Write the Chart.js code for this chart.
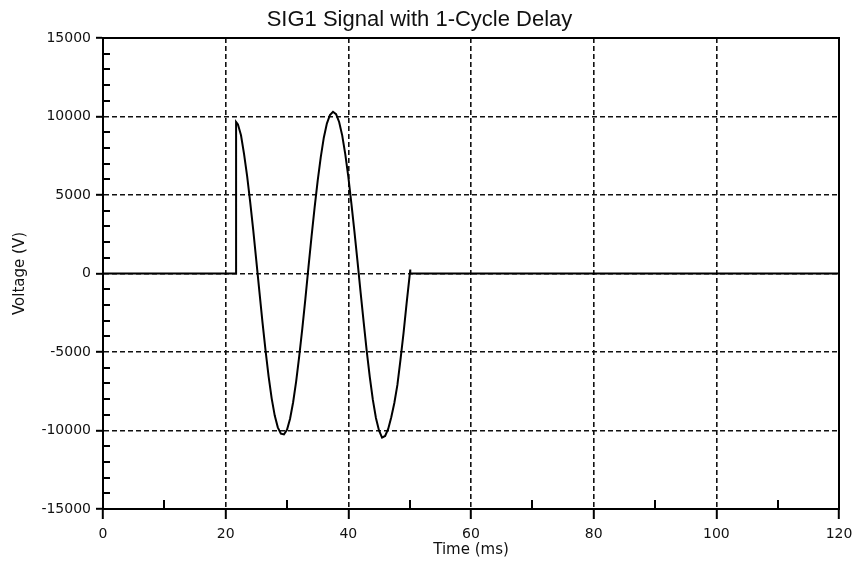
<!DOCTYPE html>
<html>
<head>
<meta charset="utf-8">
<title>SIG1 Signal with 1-Cycle Delay</title>
<script src="https://cdn.jsdelivr.net/npm/chart.js@4.4.1/dist/chart.umd.min.js"></script>
<style>
  html, body { margin: 0; padding: 0; background: #fff; }
  #wrap { width: 856px; height: 563px; }
</style>
</head>
<body>
<div id="wrap"><canvas id="chart" width="856" height="563"></canvas></div>
<script>
// SIG1 samples: time in ms, voltage in V
const timeMs = [
  0, 21.7, 21.7, 22.0, 22.5, 23.0, 23.5, 24.0, 24.5, 25.0, 25.5,
  26.0, 26.5, 27.0, 27.5, 28.0, 28.5, 29.0, 29.5, 30.0, 30.5,
  31.0, 31.5, 32.0, 32.5, 33.0, 33.5, 34.0, 34.5, 35.0, 35.5,
  36.0, 36.5, 37.0, 37.5, 38.0, 38.5, 39.0, 39.5, 40.0, 40.5,
  41.0, 41.5, 42.0, 42.5, 43.0, 43.5, 44.0, 44.5, 45.0, 45.5,
  46.0, 46.5, 47.0, 47.5, 48.0, 48.5, 49.0, 49.5, 50.1, 50.1, 120
];
const voltage = [
  0, 0, 9650, 9500, 8800, 7600, 6200, 4550, 2750, 800, -1150,
  -3100, -4900, -6550, -7950, -9050, -9800, -10200, -10250, -9950, -9250,
  -8200, -6850, -5250, -3500, -1600, 400, 2350, 4200, 5900, 7400,
  8650, 9550, 10100, 10300, 10150, 9650, 8800, 7600, 6150, 4450,
  2650, 750, -1200, -3100, -4950, -6600, -8050, -9200, -10000, -10450,
  -10350, -9900, -9150, -8250, -7100, -5500, -3800, -1900, 250, 0, 0
];

const xTicks = [0, 20, 40, 60, 80, 100, 120];
const yTicks = [-15000, -10000, -5000, 0, 5000, 10000, 15000];
const xMinorTicks = [10, 30, 50, 70, 90, 110];
const yMinorTicks = [-14000, -13000, -12000, -11000, -9000, -8000, -7000, -6000,
  -4000, -3000, -2000, -1000, 1000, 2000, 3000, 4000,
  6000, 7000, 8000, 9000, 11000, 12000, 13000, 14000];

const points = timeMs.map((t, i) => ({ x: t, y: voltage[i] }));

// solid frame on top/right plus the small inward minor ticks
const framePlugin = {
  id: 'frame',
  afterDraw(chart) {
    const { ctx, chartArea: a, scales } = chart;
    ctx.save();
    ctx.strokeStyle = '#000';
    ctx.lineWidth = 2;
    ctx.setLineDash([]);
    ctx.strokeRect(a.left, a.top, a.right - a.left, a.bottom - a.top);
    ctx.beginPath();
    yMinorTicks.forEach(v => {
      const y = Math.round(scales.y.getPixelForValue(v));
      ctx.moveTo(a.left, y);
      ctx.lineTo(a.left + 7, y);
    });
    xMinorTicks.forEach(v => {
      const x = Math.round(scales.x.getPixelForValue(v));
      ctx.moveTo(x, a.bottom);
      ctx.lineTo(x, a.bottom - 9);
    });
    ctx.stroke();
    ctx.restore();
  }
};

const tickFont = { family: 'DejaVu Sans', size: 14 };
const plainNumber = v => String(v);

new Chart(document.getElementById('chart'), {
  type: 'scatter',
  data: {
    datasets: [{
      label: 'SIG1',
      data: points,
      showLine: true,
      borderColor: '#000',
      borderWidth: 2,
      pointRadius: 0,
      tension: 0
    }]
  },
  options: {
    responsive: false,
    animation: false,
    layout: { padding: { left: 0, right: 17, top: 0, bottom: 0 } },
    plugins: {
      legend: { display: false },
      tooltip: { enabled: false },
      title: {
        display: true,
        text: 'SIG1 Signal with 1-Cycle Delay',
        color: '#111',
        font: { family: 'Liberation Sans', size: 22, weight: 'normal' },
        padding: { top: 7, bottom: 4.6 }
      }
    },
    scales: {
      x: {
        type: 'linear',
        min: 0,
        max: 120,
        afterBuildTicks: s => { s.ticks = xTicks.map(v => ({ value: v })); },
        afterFit: s => { s.height = 54; s.paddingLeft = 0; s.paddingRight = 0; },
        ticks: { color: '#111', font: tickFont, padding: 7, maxRotation: 0, callback: plainNumber },
        grid: {
          color: '#111', lineWidth: 1.6, tickLength: 10,
          tickColor: '#000', tickWidth: 2, tickBorderDash: []
        },
        border: { color: '#000', width: 2, dash: [5, 3] },
        title: {
          display: true, text: 'Time (ms)', color: '#111',
          font: { family: 'DejaVu Sans', size: 15 },
          padding: { top: 0, bottom: 3.5 }
        }
      },
      y: {
        type: 'linear',
        min: -15000,
        max: 15000,
        afterBuildTicks: s => { s.ticks = yTicks.map(v => ({ value: v })); },
        afterFit: s => { s.width = 103; s.paddingTop = 0; s.paddingBottom = 0; },
        ticks: { color: '#111', font: tickFont, padding: 5, callback: plainNumber },
        grid: {
          color: '#111', lineWidth: 1.6, tickLength: 7,
          tickColor: '#000', tickWidth: 2, tickBorderDash: []
        },
        border: { color: '#000', width: 2, dash: [5, 3] },
        title: {
          display: true, text: 'Voltage (V)', color: '#111',
          font: { family: 'DejaVu Sans', size: 15 },
          padding: { top: 11, bottom: 0 }
        }
      }
    }
  },
  plugins: [framePlugin]
});
</script>
</body>
</html>
